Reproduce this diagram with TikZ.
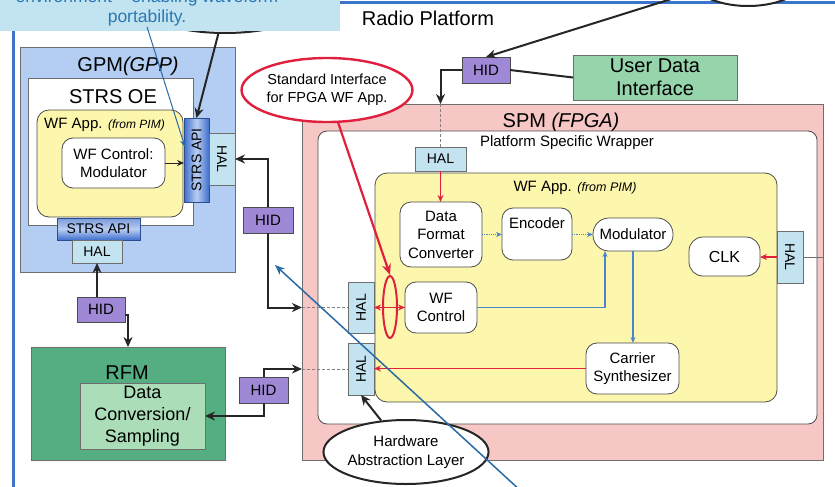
\documentclass[tikz,border=0pt]{standalone}
\usepackage{fontspec}
\setmainfont{Liberation Sans}
\usetikzlibrary{arrows.meta,shapes.geometric,calc}
\definecolor{framec}{HTML}{3B74C9}
\definecolor{callc}{HTML}{C2E3F0}
\definecolor{calltxt}{HTML}{2B78B4}
\definecolor{gpmc}{HTML}{B3CDF3}
\definecolor{yelc}{HTML}{FCF7AD}
\definecolor{apid}{HTML}{3F6ECC}
\definecolor{apil}{HTML}{B9CEF2}
\definecolor{halc}{HTML}{C4E3F0}
\definecolor{hidc}{HTML}{9F88D6}
\definecolor{rfmc}{HTML}{55AE82}
\definecolor{dcc}{HTML}{AADDB8}
\definecolor{udic}{HTML}{96D4AB}
\definecolor{spmc}{HTML}{F6C7C4}
\definecolor{redc}{HTML}{E0203F}
\definecolor{bluc}{HTML}{4A86C8}
\definecolor{bordc}{HTML}{6E6E6E}
\definecolor{longblue}{HTML}{2A6AA5}
\newcommand\bx[7]{\node[#6,minimum width={(#4-#2)*1pt},minimum height={(#5-#3)*1pt}] (#1) at ({(#2+#4)/2},{(#3+#5)/2}) {#7};}
\tikzset{
 box/.style={draw=bordc, line width=0.8pt, inner sep=0pt, outer sep=0pt},
 hal/.style={box, fill=halc, font=\fontsize{14}{14}\selectfont},
 hid/.style={box, fill=hidc, draw=black!70, font=\fontsize{15}{15}\selectfont},
 rbox/.style={box, fill=white, draw=black!70, rounded corners=11pt, align=center, font=\fontsize{15}{18.5}\selectfont},
 ttl/.style={font=\fontsize{20}{22}\selectfont, inner sep=0pt},
 lbl/.style={inner sep=0pt},
 apiv/.style={box, draw=apid!70!black, left color=apid, right color=apid, middle color=apil},
 apih/.style={box, draw=apid!70!black, top color=apid!70, bottom color=apid, middle color=apil, font=\fontsize{14}{14}\selectfont},
 conn/.style={draw=black!85, line width=2pt, -{Stealth[length=10pt,width=9pt]}},
 plainline/.style={draw=black!85, line width=2pt},
 redarr/.style={draw=redc, line width=1.2pt, -{Stealth[length=7pt,width=6pt]}},
 redthick/.style={draw=redc, line width=2.2pt, -{Stealth[length=11pt,width=9pt]}},
 blu/.style={draw=bluc, line width=1.2pt, -{Stealth[length=6pt,width=5pt]}},
 dotl/.style={draw=gray, line width=0.6pt, densely dashed},
 ann/.style={ellipse, draw=black!85, line width=2pt, fill=white, inner sep=0pt, align=center},
}
\begin{document}
\begin{tikzpicture}[x=1pt,y=-1pt]
\useasboundingbox (0,0) rectangle (835,487);
\clip (0,0) rectangle (835,487);
\fill[white] (0,0) rectangle (835,487);
% radio platform frame
\bx{frame}{13}{3}{900}{600}{draw=framec,line width=3pt,inner sep=0pt}{}
% annotation ellipses partly outside
\node[ann, minimum width=120pt, minimum height=62pt] (topell) at (748,-25) {};
\node[ann, minimum width=160pt, minimum height=50pt] (midell) at (225,8) {};
% callout
\bx{callout}{-5}{-30}{340}{31}{fill=callc,inner sep=0pt}{}
\node[lbl, anchor=base, text=calltxt, font=\fontsize{17.5}{20}\selectfont] (callt1) at (147,3) {environment – enabling waveform};
\node[lbl, anchor=base, text=calltxt, font=\fontsize{17.5}{20}\selectfont] (callt2) at (147,23) {portability.};
\node[ttl] (rp) at (428,18) {Radio Platform};
% GPM
\bx{gpm}{20}{47}{235}{272}{box,fill=gpmc}{}
\node[ttl] (gpmt) at (128,66) {GPM\textit{(GPP)}};
\bx{oe}{28}{78}{193}{225}{box,fill=white}{}
\node[ttl] (oet) at (113,97) {STRS OE};
\bx{wfa1}{37}{110}{183}{217}{box,fill=yelc,draw=black!70,rounded corners=12pt}{}
\node[lbl, anchor=west, font=\fontsize{15}{15}\selectfont] (wfa1t) at (44,125) {WF App. {\fontsize{12}{12}\selectfont\itshape (from PIM)}};
\bx{wfcm}{62}{138}{165}{188}{rbox}{WF Control:\\Modulator}
\bx{api1}{184}{118}{209}{202}{apiv}{}
\node[lbl, rotate=90, font=\fontsize{14}{14}\selectfont] (api1t) at (api1) {STRS API};
\bx{hal1}{209}{133}{235}{185}{hal}{}
\node[lbl, rotate=-90, font=\fontsize{14}{14}\selectfont] (hal1t) at (hal1) {HAL};
\bx{api2}{57}{218}{140}{240}{apih}{STRS API}
\bx{hal2}{72}{240}{122}{263}{hal}{HAL}
% RFM
\bx{hid1}{77}{297}{125}{322}{hid}{HID}
\bx{rfm}{31}{347}{225}{460}{box,fill=rfmc}{}
\node[ttl] (rfmt) at (127,373) {RFM};
\bx{dc}{80}{383}{205}{449}{box,fill=dcc,align=center,font=\fontsize{18}{22}\selectfont}{Data\\Conversion/\\Sampling}
\bx{hid2}{239}{377}{288}{403}{hid}{HID}
\bx{hid3}{243}{207}{293}{233}{hid}{HID}
% top
\bx{hid4}{462}{57}{510}{83}{hid}{HID}
\bx{udi}{573}{55}{737}{100}{box,fill=udic,align=center,font=\fontsize{20}{23}\selectfont}{User Data\\Interface}
% SPM
\bx{spm}{302}{104}{823}{460}{box,fill=spmc}{}
\node[ttl] (spmt) at (561,122) {SPM \textit{(FPGA)}};
\bx{psw}{318}{131}{817}{424}{box,fill=white,draw=black!70,rounded corners=9pt}{}
\node[lbl, font=\fontsize{15}{15}\selectfont] (pswt) at (567,143) {Platform Specific Wrapper};
\bx{wfa2}{375}{173}{777}{402}{box,fill=yelc,draw=black!70,rounded corners=12pt}{}
\node[lbl, font=\fontsize{15}{15}\selectfont] (wfa2t) at (575,188) {WF App. {\fontsize{12.5}{12.5}\selectfont\itshape (from PIM)}};
\bx{hal3}{415}{147}{466}{171}{hal}{HAL}
\bx{dfc}{400}{202}{482}{267}{rbox}{Data\\Format\\Converter}
\bx{enc}{502}{208}{572}{260}{rbox}{}
\node[lbl, font=\fontsize{15}{15}\selectfont] (enct) at (537,223) {Encoder};
\bx{mod}{593}{218}{673}{251}{rbox,rounded corners=16pt}{Modulator}
\bx{clk}{689}{237}{760}{276}{rbox,rounded corners=14pt,font=\fontsize{16}{16}\selectfont}{CLK}
\bx{hal4}{777}{231}{803}{283}{hal}{}
\node[lbl, rotate=-90, font=\fontsize{14}{14}\selectfont] (hal4t) at (hal4) {HAL};
\bx{wfc}{405}{282}{477}{333}{rbox}{WF\\Control}
\bx{car}{586}{343}{679}{394}{rbox}{Carrier\\Synthesizer}
\bx{hal5}{348}{282}{374}{333}{hal}{}
\node[lbl, rotate=90, font=\fontsize{14}{14}\selectfont] (hal5t) at (hal5) {HAL};
\bx{hal6}{348}{343}{374}{395}{hal}{}
\node[lbl, rotate=90, font=\fontsize{14}{14}\selectfont] (hal6t) at (hal6) {HAL};
% connectors inside WF App
\draw[blu, densely dotted] (dfc.east) -- (dfc.east -| enc.west);
\draw[blu, densely dotted] (enc.east |- mod.west) -- (mod.west);
\coordinate (m1) at ($(mod.south)+(-28,0)$);
\draw[blu] (wfc.east) -| (m1);
\draw[blu] (mod.south) -- (mod.south |- car.north);
\draw[redarr] (car.west) -- (car.west -| hal6.east);
\draw[redarr] (hal4.west) -- (hal4.west -| clk.east);
\draw[draw=bordc, line width=0.8pt] (hal4.east) -- (hal4.east -| spm.east);
\draw[redarr] (hal3.south) -- (hal3.south |- dfc.north);
\draw[draw=black!70, line width=0.6pt] (hal5.east) -- (wfc.west);
\draw[redarr, {Stealth[length=7pt,width=6pt]}-{Stealth[length=7pt,width=6pt]}] (hal5.east) -- (wfc.west);
\node[ellipse, draw=redc, line width=2pt, minimum width=14pt, minimum height=62pt, inner sep=0pt] (rell) at (390,307) {};
% GPM internal
\draw[draw=black!85, line width=1pt, -{Stealth[length=7pt,width=6pt]}] (wfcm.east) -- (wfcm.east -| api1.west);
% HID connectors
\draw[conn] (hid4.west) -| (hal3.north |- spm.north);
\draw[dotl] (hal3.north |- spm.north) -- (hal3.north);
\draw[plainline] (hid4.east) -- (udi.west);
\draw[conn] (topell) -- (hid4.north);
\draw[conn] (midell) -- (api1.north);
\draw[conn] (hid3.north) |- (hal1.east);
\draw[conn] (hid3.south) |- (spm.west |- hal5);
\draw[dotl] (spm.west |- hal5) -- (hal5.west);
\draw[conn] (hid1.north -| hal2.south) -- (hal2.south);
\coordinate (r1) at ($(hid1.east)+(3,5)$);
\draw[conn] ($(hid1.east)+(0,5)$) -- (r1) -- (r1 |- rfm.north);
\draw[conn] (hid2.north) |- (spm.west |- hal6);
\draw[dotl] (spm.west |- hal6) -- (hal6.west);
\draw[conn] (hid2.south) |- (dc.east);
% annotation ellipses
\node[ann, draw=redc, line width=2.4pt, minimum width=154pt, minimum height=64pt, font=\fontsize{14.5}{18}\selectfont] (sie) at (327,90) {Standard Interface\\for FPGA WF App.};
\draw[redthick] (sie) -- (rell.north);
\node[ann, minimum width=162pt, minimum height=64pt, font=\fontsize{15}{19}\selectfont] (hale) at (406,452) {Hardware\\Abstraction Layer};
\draw[conn] (hale) -- (hal6.south);
% blue annotation arrows
\draw[draw=longblue, line width=1pt, -{Stealth[length=7pt,width=6pt]}] (callt2.south) -- ($(api1.north west)+(1,29)$);
\coordinate (bstart) at (522,492);
\coordinate (bend) at (275,265);
\draw[draw=longblue, line width=1.5pt, -{Stealth[length=10pt,width=8pt]}] (bstart) -- (bend);
\end{tikzpicture}
\end{document}
